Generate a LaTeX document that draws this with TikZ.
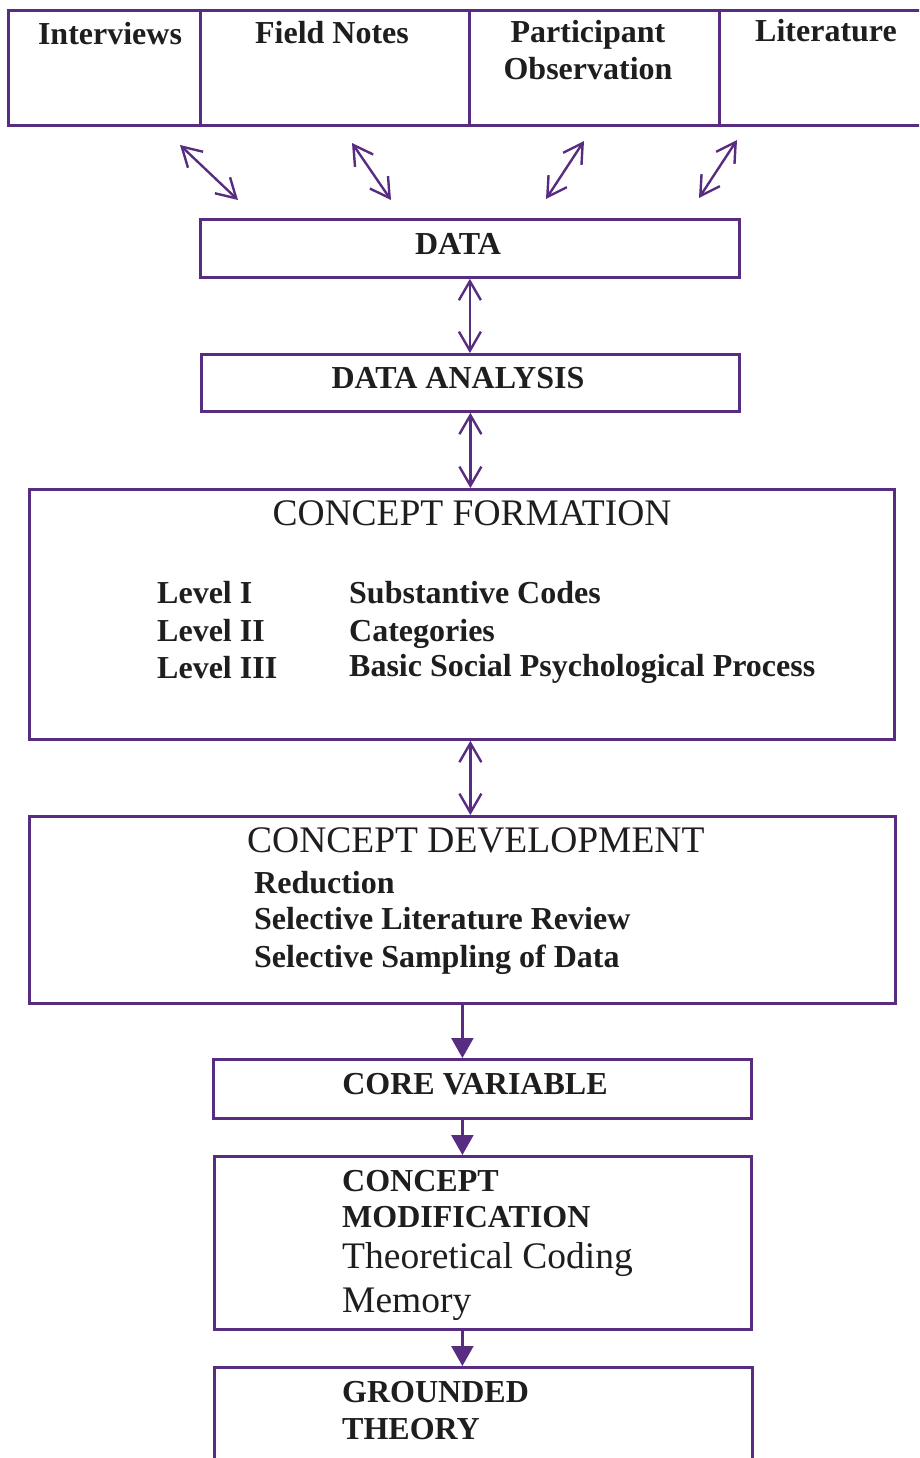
\documentclass[tikz,border=0pt]{standalone}
\usepackage{fontspec}
\setmainfont{Liberation Serif}
\usetikzlibrary{arrows.meta,calc}
\definecolor{frame}{RGB}{88,44,128}
\definecolor{ink}{RGB}{30,30,30}
\begin{document}
\begin{tikzpicture}[x=1pt,y=-1pt,
  box/.style={draw=frame, line width=2.8pt, anchor=north west, inner sep=0pt},
  bt/.style={font=\fontsize{32}{38}\selectfont\bfseries, text=ink, inner sep=0pt, anchor=base},
  btl/.style={bt, anchor=base west},
  rt/.style={font=\fontsize{37.5}{44}\selectfont, text=ink, inner sep=0pt, anchor=base},
  rtl/.style={rt, anchor=base west},
  barb/.tip={Straight Barb[length=19pt,width=22pt,line width=2.4pt]},
  dbl/.style={draw=frame, line width=2.4pt, barb-barb},
  fwd/.style={draw=frame, line width=2.4pt, -{Triangle[length=20pt,width=22pt]}}
]
\useasboundingbox (0,0) rectangle (919,1458);
\clip (0,0) rectangle (919,1458);

% sources of data
\node[box, minimum width=192pt, minimum height=115pt] (intv) at (7,9) {};
\node[box, minimum width=269pt, minimum height=115pt] (fnot) at (199,9) {};
\node[box, minimum width=250pt, minimum height=115pt] (pobs) at (468,9) {};
\node[box, minimum width=230pt, minimum height=115pt] (lit) at (718,9) {};
\node[bt] (intvT) at (110,45) {Interviews};
\node[bt] (fnotT) at (332,44) {Field Notes};
\node[bt] (pobsT) at (588,43) {Participant};
\node[bt] (pobsU) at (588,80) {Observation};
\node[bt] (litT) at (826,42) {Literature};

% two-way links between sources and data
\coordinate (a1s) at (180,145); \coordinate (a1e) at (238,200);
\coordinate (a2s) at (352,143); \coordinate (a2e) at (391,200);
\coordinate (a3s) at (584,141); \coordinate (a3e) at (546,199);
\coordinate (a4s) at (737,140); \coordinate (a4e) at (699,198);
\draw[dbl] (a1s) -- (a1e);
\draw[dbl] (a2s) -- (a2e);
\draw[dbl] (a3s) -- (a3e);
\draw[dbl] (a4s) -- (a4e);

% data and analysis
\node[box, minimum width=539pt, minimum height=58pt] (data) at (199,218) {};
\node[bt] (dataT) at (458,254) {DATA};
\node[box, minimum width=538pt, minimum height=57pt] (da) at (200,353) {};
\node[bt] (daT) at (458,388) {DATA ANALYSIS};

% concept formation
\node[box, minimum width=865pt, minimum height=250pt] (cf) at (28,488) {};
\node[rt] (cfT) at (472,525) {CONCEPT FORMATION};
\node[btl] (l1) at (157,603) {Level I};
\node[btl] (l2) at (157,641) {Level II};
\node[btl] (l3) at (157,678) {Level III};
\node[btl] (c1) at (349,603) {Substantive Codes};
\node[btl] (c2) at (349,641) {Categories};
\node[btl] (c3) at (349,676) {Basic Social Psychological Process};

% concept development
\node[box, minimum width=866pt, minimum height=187pt] (cd) at (28,815) {};
\node[rtl] (cdT) at (247,852) {CONCEPT DEVELOPMENT};
\node[btl] (d1) at (254,893) {Reduction};
\node[btl] (d2) at (254,929) {Selective Literature Review};
\node[btl] (d3) at (254,967) {Selective Sampling of Data};

% core variable
\node[box, minimum width=538pt, minimum height=59pt] (cv) at (212,1058) {};
\node[bt] (cvT) at (475,1094) {CORE VARIABLE};

% concept modification
\node[box, minimum width=537pt, minimum height=173pt] (cm) at (213,1155) {};
\node[btl] (m1) at (342,1191) {CONCEPT};
\node[btl] (m2) at (342,1227) {MODIFICATION};
\node[rtl] (m3) at (342,1268) {Theoretical Coding};
\node[rtl] (m4) at (342,1312) {Memory};

% grounded theory
\node[box, minimum width=538pt, minimum height=140pt] (gt) at (213,1366) {};
\node[btl] (g1) at (342,1402) {GROUNDED};
\node[btl] (g2) at (342,1439) {THEORY};

% vertical connectors
\draw[dbl] (data.south) -- (data.south |- da.north);
\draw[dbl] (da.south) -- (da.south |- cf.north);
\draw[dbl] (cf.south -| da.south) -- (cd.north -| da.south);
\draw[fwd] (cd.south) -- (cd.south |- cv.north);
\draw[fwd] (cv.south -| cd.south) -- (cm.north -| cd.south);
\draw[fwd] (cm.south -| cd.south) -- (gt.north -| cd.south);
\end{tikzpicture}
\end{document}
